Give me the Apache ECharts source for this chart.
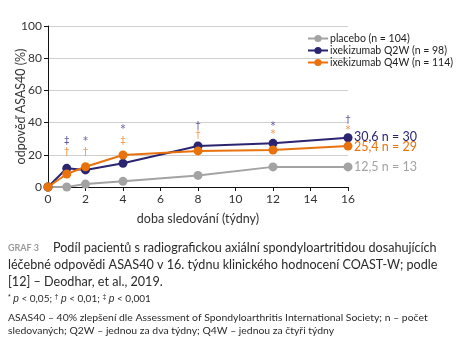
<!DOCTYPE html>
<html><head><meta charset="utf-8">
<script src="https://cdn.jsdelivr.net/npm/echarts@6/dist/echarts.min.js"></script>
<style>html,body{margin:0;padding:0;background:#fff}#c{width:466px;height:348px}</style>
</head><body><div id="c"></div>
<script>
const weeks = [0, 1, 2, 4, 8, 12, 16];
const placebo = [0, 0, 1.8, 3.5, 7.2, 12.5, 12.5];
const q2w = [0, 11.6, 10.6, 14.7, 25.5, 27.1, 30.6];
const q4w = [0, 8.1, 12.6, 19.9, 22.4, 23.0, 25.4];
const sigWeeks = [1, 2, 4, 8, 12, 16];
const sigQ2W = ['‡', '*', '*', '†', '*', '†'];
const sigQ2WHeight = [28.4, 28.4, 35.7, 37.8, 37.8, 41.5];
const sigQ4W = ['†', '†', '‡', '†', '*', '*'];
const sigQ4WHeight = [21.2, 21.2, 28.4, 31.9, 32.5, 35.3];
const endLabels = ['12,5 n = 13', '30,6 n = 30', '25,4 n = 29'];
const xTicks = [0, 2, 4, 6, 8, 10, 12, 14, 16];

const C_GREY = '#a3a3a3', C_BLUE = '#2b2470', C_ORANGE = '#e8720c';
const FONT = 'Lato';

function pairs(xs, ys) { return xs.map((x, i) => [x, ys[i]]); }
function sigSeries(name, labels, heights, color) {
  return {
    name: name, type: 'scatter', symbolSize: 0, silent: true, z: 5,
    data: sigWeeks.map((w, i) => ({ value: [w, heights[i]], lab: labels[i] })),
    label: { show: true, position: 'inside', color: color, fontSize: 10, fontFamily: 'DejaVu Sans',
      formatter: p => p.data.lab }
  };
}
function lineSeries(name, ys, color, endText, offY) {
  return {
    name: name, type: 'line', data: pairs(weeks, ys), color: color,
    symbol: 'circle', symbolSize: 9, lineStyle: { width: 2, color: color },
    itemStyle: { color: color },
    endLabel: { show: true, formatter: endText, color: color, fontSize: 12.5,
      fontFamily: FONT, distance: 6, offset: [0, offY] }
  };
}

const chart = echarts.init(document.getElementById('c'));
chart.setOption({
  animation: false,
  textStyle: { fontFamily: FONT },
  grid: { left: 48, right: 118, top: 26, bottom: 161, containLabel: false, outerBoundsMode: 'none' },
  legend: {
    left: 302, top: 28, orient: 'vertical', itemGap: 1, itemWidth: 20, itemHeight: 9,
    data: ['placebo (n = 104)', 'ixekizumab Q2W (n = 98)', 'ixekizumab Q4W (n = 114)'],
    textStyle: { fontSize: 10.5, color: '#222', fontFamily: FONT, padding: [0, 0, 0, -3] }
  },
  xAxis: {
    type: 'value', min: 0, max: 16, interval: 2,
    name: 'doba sledování (týdny)', nameLocation: 'middle', nameGap: 25, nameMoveOverlap: false,
    nameTextStyle: { fontSize: 12.5, color: '#333' },
    axisLine: { lineStyle: { color: '#111' } },
    axisTick: { show: true, length: 4, lineStyle: { color: '#111' } },
    axisLabel: { fontSize: 12, color: '#333', margin: 6, customValues: xTicks },
    splitLine: { show: false }
  },
  yAxis: {
    type: 'value', min: 0, max: 100, interval: 20,
    name: 'odpověď ASAS40 (%)', nameLocation: 'middle', nameGap: 21, nameRotate: 90, nameMoveOverlap: false,
    nameTextStyle: { fontSize: 12.5, color: '#333' },
    axisLine: { show: true, lineStyle: { color: '#111' } },
    axisTick: { show: true, length: 4, lineStyle: { color: '#111' } },
    axisLabel: { fontSize: 12, color: '#333', margin: 6 },
    splitLine: { lineStyle: { color: '#cfcfcf' } }
  },
  series: [
    lineSeries('placebo (n = 104)', placebo, C_GREY, endLabels[0], 0),
    lineSeries('ixekizumab Q2W (n = 98)', q2w, C_BLUE, endLabels[1], -1),
    lineSeries('ixekizumab Q4W (n = 114)', q4w, C_ORANGE, endLabels[2], 1),
    sigSeries('sig2', sigQ2W, sigQ2WHeight, '#3a3285'),
    sigSeries('sig4', sigQ4W, sigQ4WHeight, '#ec7f25')
  ],
  graphic: [
    { type: 'text', left: 8, top: 244, style: { text: 'GRAF 3', fill: '#9a9a9a', font: 'bold 9px ' + FONT } },
    { type: 'text', left: 53, top: 241, style: { text: 'Podíl pacientů s radiografickou axiální spondyloartritidou dosahujících', fill: '#2a2a2a', font: '12.6px ' + FONT } },
    { type: 'text', left: 8, top: 258, style: { text: 'léčebné odpovědi ASAS40 v 16. týdnu klinického hodnocení COAST-W; podle', fill: '#2a2a2a', font: '12.6px ' + FONT } },
    { type: 'text', left: 8, top: 275, style: { text: '[12] – Deodhar, et al., 2019.', fill: '#2a2a2a', font: '12.6px ' + FONT } },
    { type: 'text', left: 8, top: 294, style: {
      text: '{s|*} {i|p} < 0,05; {s|†} {i|p} < 0,01; {s|‡} {i|p} < 0,001',
      fill: '#2a2a2a', font: '10px ' + FONT,
      rich: { s: { fontSize: 7, verticalAlign: 'top', fill: '#2a2a2a' }, i: { fontStyle: 'italic', fontSize: 10, fill: '#2a2a2a' } } } },
    { type: 'text', left: 8, top: 313, style: { text: 'ASAS40 – 40% zlepšení dle Assessment of Spondyloarthritis International Society; n – počet', fill: '#2a2a2a', font: '10.4px ' + FONT } },
    { type: 'text', left: 8, top: 326, style: { text: 'sledovaných; Q2W – jednou za dva týdny; Q4W – jednou za čtyři týdny', fill: '#2a2a2a', font: '10.4px ' + FONT } }
  ]
});
</script></body></html>
